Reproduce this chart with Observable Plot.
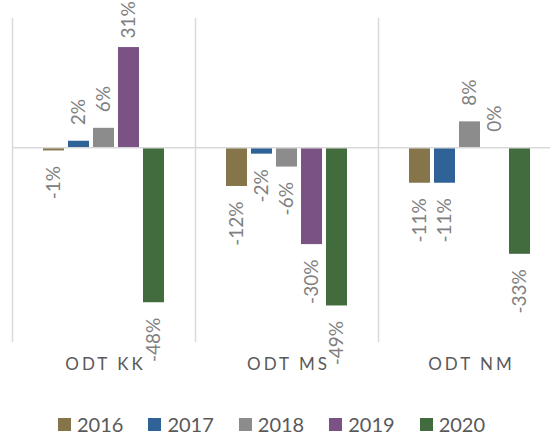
<!DOCTYPE html>
<html><head><meta charset="utf-8">
<script src="https://cdn.jsdelivr.net/npm/d3@7"></script>
<script src="https://cdn.jsdelivr.net/npm/@observablehq/plot@0.6"></script>
<style>
html,body{margin:0;padding:0;background:#fff;overflow:hidden;}
#wrap{width:550px;height:432px;overflow:hidden;position:relative;font-family:Lato,"Open Sans",sans-serif;}
#wrap svg{display:block;max-width:none !important;width:562px !important;height:400px !important;}
g[aria-description="category"] text{letter-spacing:3px;}
#legend{position:absolute;left:58px;top:412px;display:flex;}
.item{display:flex;align-items:flex-start;margin-right:25px;font-size:20px;line-height:24px;color:#595959;white-space:nowrap;}
.sw{width:13px;height:13px;margin-top:6px;margin-right:6px;}
</style></head><body><div id="wrap"></div>
<script>
const groups = ["ODT KK", "ODT MS", "ODT NM"];
const years = ["2016", "2017", "2018", "2019", "2020"];
const colors = ["#857548", "#2f6397", "#8c8c8c", "#7a5283", "#426b3e"];
const valuesKK = [-1, 2, 6, 31, -48];
const valuesMS = [-12, -2, -6, -30, -49];
const valuesNM = [-11, -11, 8, 0, -33];
const series = [valuesKK, valuesMS, valuesNM];
const data = groups.flatMap((g, i) => years.map((y, j) => ({group: g, year: y, value: series[i][j]})));

const lbl = d => d.value + "%";
const common = {fx: "group", x: "year", y: "value", text: lbl, rotate: -90, fontSize: 19, fill: "#808080"};

const chart = Plot.plot({
  width: 562, height: 400,
  marginLeft: 12, marginRight: 1, marginTop: 18, marginBottom: 59,
  style: {fontFamily: "Lato, 'Open Sans', sans-serif", background: "#fff", overflow: "visible"},
  fx: {domain: groups, padding: 0, axis: null},
  x: {domain: years, paddingInner: 0.16, paddingOuter: 1.24, axis: null},
  y: {domain: [-60, 40], axis: null},
  color: {domain: years, range: colors},
  marks: [
    Plot.frame({anchor: "left", stroke: "#d9d9d9", strokeWidth: 1.5}),
    Plot.barY(data, {fx: "group", x: "year", y: "value", fill: "year"}),
    Plot.ruleY([0], {stroke: "#d9d9d9", strokeWidth: 1.5}),
    Plot.text(data.filter(d => d.value >= 0 && d.value < 28), {...common, textAnchor: "start", dy: -16}),
    Plot.text(data.filter(d => d.value >= 28), {...common, textAnchor: "start", dy: -9}),
    Plot.text(data.filter(d => d.value < 0), {...common, textAnchor: "end", dy: 15}),
    Plot.text(groups, {fx: d => d, text: d => d, frameAnchor: "bottom", dy: 28, dx: 1.5, fontSize: 17, fill: "#595959", ariaDescription: "category"})
  ]
});
const wrap = document.getElementById("wrap");
wrap.appendChild(chart);

const legend = d3.select(wrap).append("div").attr("id", "legend");
const items = legend.selectAll(".item").data(years).join("div").attr("class", "item");
items.append("div").attr("class", "sw").style("background", (d, i) => colors[i]);
items.append("span").text(d => d);
</script>
</body></html>
